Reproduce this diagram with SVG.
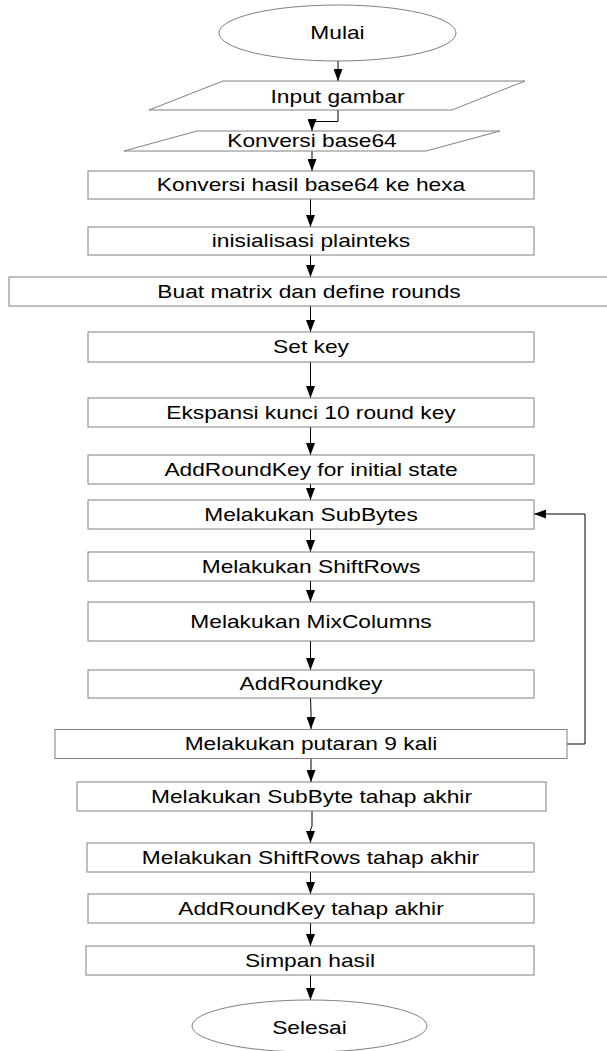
<svg xmlns="http://www.w3.org/2000/svg" width="607" height="1051" viewBox="0 0 607 1051">
<style>
.shape{fill:#fff;stroke:#808080;stroke-width:1}
.t{font-family:"Liberation Sans",Arial,sans-serif;font-size:17.5px;fill:#000;text-anchor:middle}
.c{fill:none;stroke:#000;stroke-width:1;marker-end:url(#ah)}
.p{fill:none;stroke:#000;stroke-width:1}
</style>
<defs>
<marker id="ah" markerWidth="12" markerHeight="9" refX="12" refY="4.5" orient="auto" markerUnits="userSpaceOnUse"><path d="M0,0 L12,4.5 L0,9 z" fill="#000"/></marker>
</defs>
<rect width="607" height="1051" fill="#fff"/>
<g id="connectors">
<path class="c" d="M338,61 L338,81"/>
<path class="c" d="M338,110 L338,121.5 L312,121.5 L312,131"/>
<path class="c" d="M312,151 L312,171"/>
<path class="c" d="M310.5,199 L310.5,227"/>
<path class="c" d="M310.5,255 L310.5,277"/>
<path class="c" d="M310.5,306 L310.5,332"/>
<path class="c" d="M310.5,362 L310.5,398"/>
<path class="c" d="M310.5,427 L310.5,455"/>
<path class="c" d="M310.5,484 L310.5,500"/>
<path class="c" d="M310.5,529 L310.5,552"/>
<path class="c" d="M310.5,581 L310.5,602"/>
<path class="c" d="M310.5,641 L310.5,670"/>
<path class="c" d="M310.5,698 L311,712 L311,729"/>
<path class="c" d="M567,744 L585,744 L585,514 L534,514"/>
<path class="c" d="M311,759 L311,782"/>
<path class="c" d="M312,811 L312,826 L310.5,830 L310.5,843"/>
<path class="c" d="M310.5,872 L310.5,894"/>
<path class="c" d="M310.5,923 L310.5,946"/>
<path class="c" d="M310.5,975 L310.5,1000"/>
</g>
<g id="mulai">
<ellipse class="shape" cx="337.5" cy="33" rx="118.5" ry="28"/>
<text class="t" transform="translate(337.5,39.3) scale(1.3,1)">Mulai</text>
</g>
<g id="input-gambar">
<polygon class="shape" points="223,81 525,81 452,110 149,110"/>
<text class="t" transform="translate(337.5,102.5) scale(1.3,1)">Input gambar</text>
</g>
<g id="konversi-base64">
<polygon class="shape" points="197,131 500,131 426,151 124,151"/>
<text class="t" transform="translate(312,146.7) scale(1.3,1)">Konversi base64</text>
</g>
<g id="konversi-hexa">
<rect class="shape" x="88" y="171" width="446" height="28"/>
<text class="t" transform="translate(311,190.7) scale(1.3,1)">Konversi hasil base64 ke hexa</text>
</g>
<g id="inisialisasi">
<rect class="shape" x="88" y="227" width="446" height="28"/>
<text class="t" transform="translate(311,247) scale(1.3,1)">inisialisasi plainteks</text>
</g>
<g id="buat-matrix">
<rect class="shape" x="9" y="277" width="602" height="29"/>
<text class="t" transform="translate(309,297.5) scale(1.3,1)">Buat matrix dan define rounds</text>
</g>
<g id="set-key">
<rect class="shape" x="88" y="332" width="446" height="30"/>
<text class="t" transform="translate(311,353) scale(1.3,1)">Set key</text>
</g>
<g id="ekspansi">
<rect class="shape" x="88" y="398" width="446" height="29"/>
<text class="t" transform="translate(311,418.5) scale(1.3,1)">Ekspansi kunci 10 round key</text>
</g>
<g id="addroundkey-initial">
<rect class="shape" x="88" y="455" width="446" height="29"/>
<text class="t" transform="translate(311,475.5) scale(1.3,1)">AddRoundKey for initial state</text>
</g>
<g id="subbytes">
<rect class="shape" x="88" y="500" width="446" height="29"/>
<text class="t" transform="translate(311,520.5) scale(1.3,1)">Melakukan SubBytes</text>
</g>
<g id="shiftrows">
<rect class="shape" x="88" y="552" width="446" height="29"/>
<text class="t" transform="translate(311,572.5) scale(1.3,1)">Melakukan ShiftRows</text>
</g>
<g id="mixcolumns">
<rect class="shape" x="88" y="602" width="446" height="39"/>
<text class="t" transform="translate(311,627.5) scale(1.3,1)">Melakukan MixColumns</text>
</g>
<g id="addroundkey">
<rect class="shape" x="88" y="670" width="446" height="28"/>
<text class="t" transform="translate(311,690) scale(1.3,1)">AddRoundkey</text>
</g>
<g id="putaran">
<rect class="shape" x="55" y="729.5" width="512" height="29"/>
<text class="t" transform="translate(311,750) scale(1.3,1)">Melakukan putaran 9 kali</text>
</g>
<g id="subbyte-akhir">
<rect class="shape" x="77" y="782" width="469" height="29"/>
<text class="t" transform="translate(311.5,802.5) scale(1.3,1)">Melakukan SubByte tahap akhir</text>
</g>
<g id="shiftrows-akhir">
<rect class="shape" x="87" y="843" width="447" height="29"/>
<text class="t" transform="translate(310.5,863.5) scale(1.3,1)">Melakukan ShiftRows tahap akhir</text>
</g>
<g id="addroundkey-akhir">
<rect class="shape" x="88" y="894" width="446" height="29"/>
<text class="t" transform="translate(311,914.5) scale(1.3,1)">AddRoundKey tahap akhir</text>
</g>
<g id="simpan">
<rect class="shape" x="86" y="946" width="448" height="29"/>
<text class="t" transform="translate(310,966.5) scale(1.3,1)">Simpan hasil</text>
</g>
<g id="selesai">
<ellipse class="shape" cx="309.5" cy="1026" rx="117.5" ry="26"/>
<text class="t" transform="translate(309.5,1034) scale(1.3,1)">Selesai</text>
</g>
</svg>
